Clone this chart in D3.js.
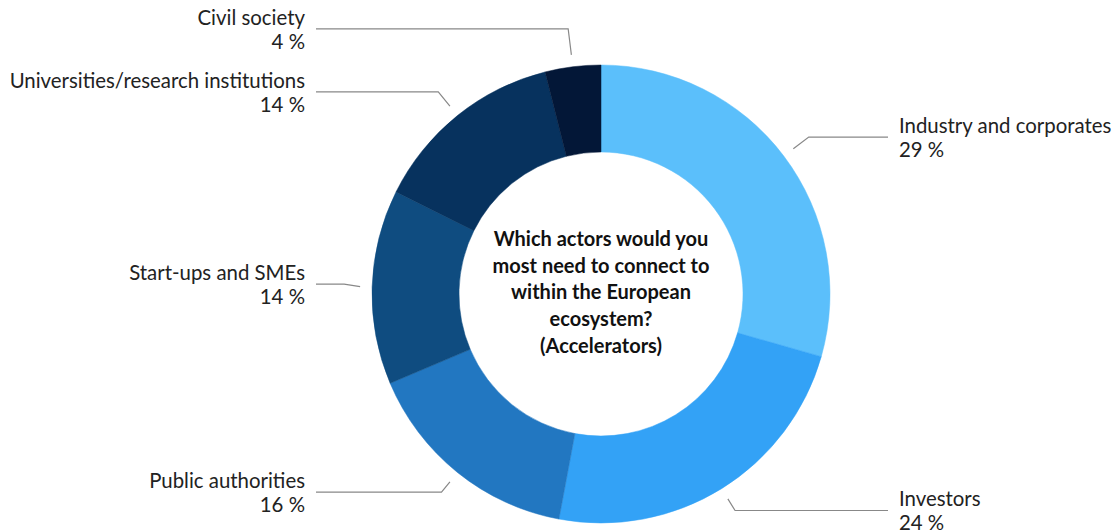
<!DOCTYPE html>
<html>
<head>
<meta charset="utf-8">
<script src="https://cdn.jsdelivr.net/npm/d3@7"></script>
<style>
  html, body { margin: 0; padding: 0; background: #fff; }
  svg { display: block; }
  text { font-family: Lato, "Noto Sans", sans-serif; }
</style>
</head>
<body>
<svg id="chart" width="1115" height="531"></svg>
<script>
// ---- data ----
const categories = ["Industry and corporates", "Investors", "Public authorities", "Start-ups and SMEs", "Universities/research institutions", "Civil society"];
const counts = [15, 12, 8, 7, 7, 2];
const colors = ["#5bbffb", "#33a2f6", "#2277c1", "#0f4c80", "#07325e", "#031737"];
const centerTitle = ["Which actors would you", "most need to connect to", "within the European", "ecosystem?", "(Accelerators)"];

// ---- layout ----
const W = 1115, H = 531;
const cx = 601, cy = 294;
const rOuter = 229, rInner = 142;
const rTouch = 241, rBreak = 257;
const labelShift = -2;
const labelGapRight = 899, lineEndRight = 888;
const labelGapLeft = 305, lineEndLeft = 316;
const minSpacing = 63;

const svg = d3.select("#chart");
const g = svg.append("g").attr("transform", `translate(${cx},${cy})`);

const total = d3.sum(counts);
const data = categories.map((c, i) => ({ name: c, value: counts[i], color: colors[i] }));

const pie = d3.pie().value(d => d.value).sort(null);
const arcs = pie(data);
const arc = d3.arc().innerRadius(rInner).outerRadius(rOuter);

g.selectAll("path.slice")
  .data(arcs)
  .join("path")
  .attr("class", "slice")
  .attr("d", arc)
  .attr("fill", d => d.data.color)
  .attr("stroke", d => d.data.color)
  .attr("stroke-width", 0.5);

// label positions
const labels = arcs.map(a => {
  const mid = (a.startAngle + a.endAngle) / 2;
  const sx = Math.sin(mid), sy = -Math.cos(mid);
  return {
    a, mid, sx, sy,
    side: sx >= 0 ? "right" : "left",
    y: rBreak * sy + labelShift,
    pct: Math.round(a.data.value / total * 100)
  };
});

// simple collision avoidance per side (push upward from bottom)
["left", "right"].forEach(side => {
  const items = labels.filter(l => l.side === side).sort((p, q) => q.y - p.y);
  for (let i = 1; i < items.length; i++) {
    if (items[i - 1].y - items[i].y < minSpacing) items[i].y = items[i - 1].y - minSpacing;
  }
});

labels.forEach(l => {
  const tx = rTouch * l.sx, ty = rTouch * l.sy;
  let rb = rBreak;
  if (Math.abs(l.sy) > 0.3) rb = Math.max(rTouch, (l.y) / l.sy);
  const bx = rb * l.sx, by = l.y;
  const ex = (l.side === "right" ? lineEndRight : lineEndLeft) - cx;
  g.append("path")
    .attr("d", `M${tx},${ty}L${bx},${by}L${ex},${by}`)
    .attr("fill", "none")
    .attr("stroke", "#888")
    .attr("stroke-width", 1.2);

  const lx = (l.side === "right" ? labelGapRight : labelGapLeft) - cx;
  const t = g.append("text")
    .attr("x", lx)
    .attr("y", l.y)
    .attr("text-anchor", l.side === "right" ? "start" : "end")
    .attr("fill", "#222")
    .style("font-size", "20.4px");
  t.append("tspan").attr("x", lx).attr("dy", "-0.2em").text(l.a.data.name);
  t.append("tspan").attr("x", lx).attr("dy", "1.18em").text(l.pct + " %");
});

// center title
const lh = 26.7;
const ct = g.append("text")
  .attr("text-anchor", "middle")
  .attr("fill", "#111")
  .style("font-size", "20px")
  .style("font-weight", "bold");
centerTitle.forEach((line, i) => {
  ct.append("tspan")
    .attr("x", 0)
    .attr("y", (i - (centerTitle.length - 1) / 2) * lh - 2)
    .attr("dy", "0.36em")
    .text(line);
});
</script>
</body>
</html>
